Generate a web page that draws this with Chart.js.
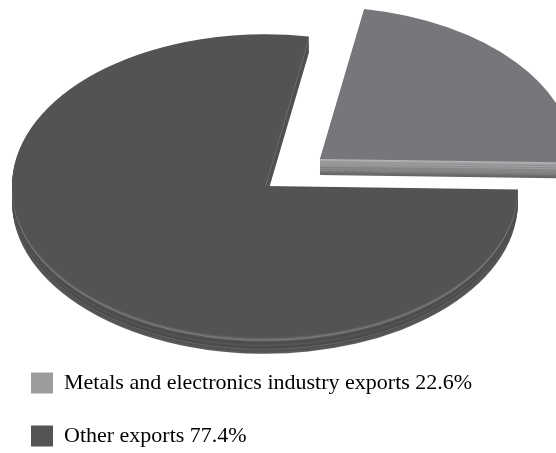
<!DOCTYPE html>
<html>
<head>
<meta charset="utf-8">
<script src="https://cdn.jsdelivr.net/npm/chart.js@4.4.0/dist/chart.umd.min.js"></script>
<style>
  html, body { margin: 0; padding: 0; background: #ffffff; }
  canvas { display: block; }
</style>
</head>
<body>
<canvas id="exportsPie" width="556" height="453"></canvas>
<script>
// Export structure
const categories = ['Metals and electronics industry exports', 'Other exports'];
const shares = [22.6, 77.4];

// Top faces of the slices and the legend keys
const faceColors = ['#76777a', '#535355'];
const keyColors = ['#9c9c9e', '#545456'];

// Rim of each slice, from the top edge downward (one entry per pixel of depth)
const rimBands = [
  ['#b4b4b6', '#a8a8aa', '#9c9c9e', '#929294', '#a2a2a4', '#8e8e90', '#9a9a9c', '#8a8a8c',
   '#828284', '#8c8c8e', '#7e7e80', '#868688', '#767678', '#707072', '#6a6a6c', '#666668'],
  ['#5e5e60', '#6c6c6e', '#7c7c7e', '#5a5a5c', '#4e4e50', '#4c4c4e', '#4e4e50', '#58585a',
   '#505052', '#4c4c4e', '#4a4a4c', '#66666a', '#4e4e50', '#555557', '#58585a', '#5c5c5e']
];

// Where the tilted disc sits on the canvas and how flat it is
const DISC_X = 265;
const DISC_Y = 186;
const FLATTEN = 0.6;

function tiltContext(ctx, chart, drop) {
  const first = chart.getDatasetMeta(0).data[0];
  ctx.translate(DISC_X, DISC_Y + drop);
  ctx.scale(1, FLATTEN);
  ctx.translate(-first.x, -first.y);
}

// Draws the pie as a flattened disc with a rim underneath
const tiltedPie = {
  id: 'tiltedPie',
  beforeDatasetsDraw(chart) {
    const ctx = chart.ctx;
    const arcs = chart.getDatasetMeta(0).data;
    const depth = rimBands[0].length;
    for (let d = depth; d >= 1; d--) {
      ctx.save();
      tiltContext(ctx, chart, d);
      arcs.forEach((arc, i) => {
        const own = arc.options;
        arc.options = { ...own, backgroundColor: rimBands[i][d - 1] };
        arc.draw(ctx);
        arc.options = own;
      });
      ctx.restore();
    }
    ctx.save();
    tiltContext(ctx, chart, 0);
  },
  afterDatasetsDraw(chart) {
    chart.ctx.restore();
  }
};

new Chart(document.getElementById('exportsPie'), {
  type: 'pie',
  data: {
    labels: categories,
    datasets: [{
      data: shares,
      backgroundColor: faceColors,
      borderWidth: 0,
      offset: [284, 0],
      hoverOffset: 0,
      radius: 253,
      rotation: 10,
      clip: false
    }]
  },
  options: {
    responsive: false,
    animation: false,
    events: [],
    layout: { padding: { left: 0, right: 0, top: 0, bottom: -4 } },
    plugins: {
      tooltip: { enabled: false },
      legend: {
        position: 'bottom',
        align: 'start',
        labels: {
          boxWidth: 22,
          boxHeight: 21,
          padding: 31,
          color: '#231f20',
          font: { family: "'Liberation Serif', 'Times New Roman', serif", size: 22 },
          generateLabels() {
            return categories.map((name, i) => ({
              text: name + ' ' + shares[i].toFixed(1) + '%',
              fillStyle: keyColors[i],
              strokeStyle: keyColors[i],
              lineWidth: 0,
              hidden: false,
              index: i
            }));
          }
        }
      }
    }
  },
  plugins: [tiltedPie]
});
</script>
</body>
</html>
